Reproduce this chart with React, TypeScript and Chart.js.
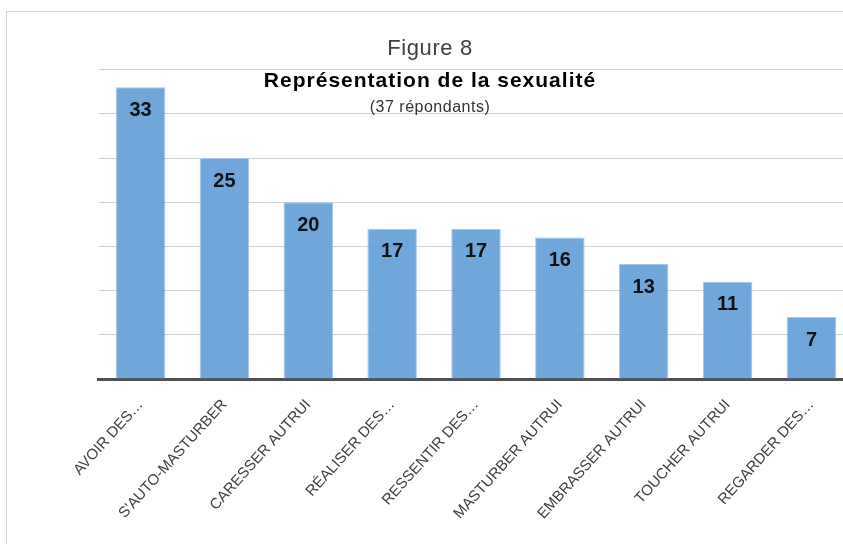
import React, { useEffect, useRef } from "react";
import { Chart, registerables } from "chart.js";

Chart.register(...registerables);

const categories = [
  "AVOIR DES…",
  "S'AUTO-MASTURBER",
  "CARESSER AUTRUI",
  "RÉALISER DES…",
  "RESSENTIR DES…",
  "MASTURBER AUTRUI",
  "EMBRASSER AUTRUI",
  "TOUCHER AUTRUI",
  "REGARDER DES…",
];
const values = [33, 25, 20, 17, 17, 16, 13, 11, 7];
const titleLines = ["Figure 8", "Représentation de la sexualité", "(37 répondants)"];
const yMin = 0;
const yMax = 35;
const yStep = 5;

const FONT = "'Liberation Sans', Arial, sans-serif";

const titlePlugin = {
  id: "overlayTitle",
  afterDraw(chart: any) {
    const ctx = chart.ctx;
    ctx.save();
    ctx.textAlign = "center";
    ctx.textBaseline = "alphabetic";
    const cx = 430;
    ctx.fillStyle = "#404040";
    ctx.font = `22px ${FONT}`;
    (ctx as any).letterSpacing = "0.6px";
    ctx.fillText(titleLines[0], cx, 54.5);
    ctx.fillStyle = "#000000";
    ctx.font = `bold 21px ${FONT}`;
    (ctx as any).letterSpacing = "1px";
    ctx.fillText(titleLines[1], cx, 87);
    ctx.fillStyle = "#333333";
    ctx.font = `16px ${FONT}`;
    (ctx as any).letterSpacing = "0.5px";
    ctx.fillText(titleLines[2], cx, 111.5);
    (ctx as any).letterSpacing = "0px";
    ctx.restore();
  },
};

const valueLabelPlugin = {
  id: "valueLabels",
  afterDatasetsDraw(chart: any) {
    const ctx = chart.ctx;
    const meta = chart.getDatasetMeta(0);
    ctx.save();
    ctx.textAlign = "center";
    ctx.textBaseline = "middle";
    ctx.fillStyle = "#111111";
    ctx.font = `bold 20px ${FONT}`;
    meta.data.forEach((bar: any, i: number) => {
      ctx.fillText(String(values[i]), bar.x, bar.y + 23);
    });
    ctx.restore();
  },
};

export default function App() {
  const ref = useRef<HTMLCanvasElement | null>(null);

  useEffect(() => {
    if (!ref.current) return;
    const chart = new Chart(ref.current, {
      type: "bar",
      data: {
        labels: categories,
        datasets: [
          {
            data: values,
            backgroundColor: "rgba(95,157,215,0.9)",
            borderColor: "rgba(165,200,235,1)",
            borderWidth: 1,
            categoryPercentage: 1,
            barPercentage: 0.59,
          },
        ],
      },
      options: {
        animation: false,
        responsive: false,
        devicePixelRatio: 1,
        layout: { padding: { left: 98.6, right: 6.6, top: 69.6, bottom: 0 } },
        plugins: {
          legend: { display: false },
          title: { display: false },
          tooltip: { enabled: false },
        },
        scales: {
          x: {
            grid: { display: false },
            border: { display: true, color: "#505050", width: 3 },
            ticks: {
              color: "#404040",
              font: { family: FONT, size: 15 },
              minRotation: 48,
              maxRotation: 48,
              autoSkip: false,
              labelOffset: 0,
              padding: 9,
            },
            afterFit(scale: any) {
              scale.height = 165;
            },
          },
          y: {
            min: yMin,
            max: yMax,
            ticks: { display: false, stepSize: yStep },
            grid: { color: "#d0d0d0", lineWidth: 1, drawTicks: false },
            border: { display: false },
            afterFit(scale: any) {
              scale.width = 0;
            },
          },
        },
      },
      plugins: [titlePlugin, valueLabelPlugin],
    });
    return () => chart.destroy();
  }, []);

  return (
    <div
      style={{
        position: "fixed",
        left: 0,
        top: 0,
        width: 843,
        height: 544,
        overflow: "hidden",
        background: "#ffffff",
      }}
    >
      <div
        style={{
          position: "absolute",
          left: 6,
          top: 11,
          width: 900,
          height: 600,
          border: "1px solid #d4d4d4",
          boxSizing: "border-box",
        }}
      />
      <canvas
        ref={ref}
        width={860}
        height={544}
        style={{ position: "absolute", left: 0, top: 0, display: "block" }}
      />
    </div>
  );
}
